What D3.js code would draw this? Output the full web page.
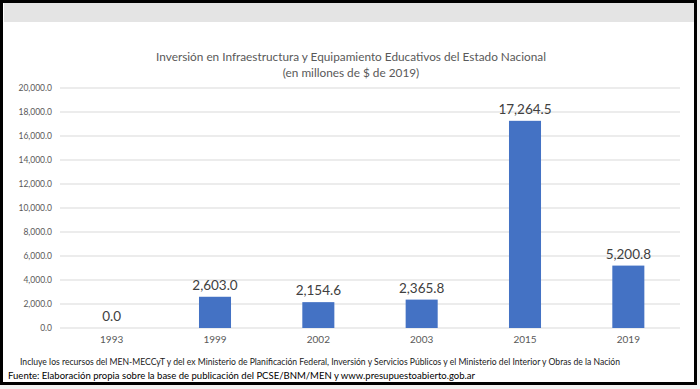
<!DOCTYPE html>
<html>
<head>
<meta charset="utf-8">
<script src="https://cdn.jsdelivr.net/npm/d3@7"></script>
<style>
  body { margin: 0; background: #fff; }
  svg { display: block; font-family: Lato, "Open Sans", sans-serif; }
</style>
</head>
<body>
<svg id="chart" width="700" height="389"></svg>
<script>
const years = ["1993", "1999", "2002", "2003", "2015", "2019"];
const values = [0.0, 2603.0, 2154.6, 2365.8, 17264.5, 5200.8];
const yTicks = [0, 2000, 4000, 6000, 8000, 10000, 12000, 14000, 16000, 18000, 20000];
const titleLines = ["Inversión en Infraestructura y Equipamiento Educativos del Estado Nacional", "(en millones de $ de 2019)"];
const noteLine = "Incluye los recursos del MEN-MECCyT y del ex Ministerio de Planificación Federal, Inversión y Servicios Públicos y el Ministerio del Interior y Obras de la Nación";
const sourceLine = "Fuente: Elaboración propia sobre la base de publicación del PCSE/BNM/MEN y www.presupuestoabierto.gob.ar";

const svg = d3.select("#chart");
const fmt = d3.format(",.1f");

// frame + grey header band
svg.append("rect").attr("x", 0).attr("y", 0).attr("width", 700).attr("height", 389).attr("fill", "#f2f2f2");
svg.append("rect").attr("x", 1.5).attr("y", 1.5).attr("width", 694).attr("height", 382)
    .attr("fill", "#fff").attr("stroke", "#000").attr("stroke-width", 3);
svg.append("rect").attr("x", 4).attr("y", 3).attr("width", 690).attr("height", 19).attr("fill", "#e4e4e4");

const x = d3.scaleBand()
    .domain(years)
    .range([60, 680])
    .paddingInner(0.69)
    .paddingOuter(0.345);

const y = d3.scaleLinear()
    .domain([0, 20000])
    .range([328, 88]);

// gridlines
svg.append("g")
    .selectAll("line")
    .data(yTicks)
    .join("line")
    .attr("x1", 60)
    .attr("x2", 680)
    .attr("y1", d => y(d))
    .attr("y2", d => y(d))
    .attr("stroke", "#d9d9d9")
    .attr("stroke-width", 1);

// y axis labels
const yAxis = svg.append("g")
    .attr("transform", "translate(52,0)")
    .call(d3.axisLeft(y).tickValues(yTicks).tickFormat(fmt).tickSize(0).tickPadding(0));
yAxis.select(".domain").remove();
yAxis.selectAll("text").attr("fill", "#595959").attr("font-size", 8.5).attr("font-family", "Lato, sans-serif");

// x axis labels
const xAxis = svg.append("g")
    .attr("transform", "translate(0,336)")
    .call(d3.axisBottom(x).tickSize(0).tickPadding(0));
xAxis.select(".domain").remove();
xAxis.selectAll("text").attr("fill", "#595959").attr("font-size", 10).attr("font-family", "Lato, sans-serif");

// bars
svg.append("g")
    .selectAll("rect")
    .data(values)
    .join("rect")
    .attr("x", (d, i) => x(years[i]))
    .attr("y", d => y(d))
    .attr("width", x.bandwidth())
    .attr("height", d => y(0) - y(d))
    .attr("fill", "#4472c4");

// value labels
svg.append("g")
    .selectAll("text")
    .data(values)
    .join("text")
    .attr("x", (d, i) => x(years[i]) + x.bandwidth() / 2)
    .attr("y", d => y(d) - 7)
    .attr("text-anchor", "middle")
    .attr("font-size", 13.5)
    .attr("fill", "#404040")
    .text(d => fmt(d));

// title
svg.append("g")
    .selectAll("text")
    .data(titleLines)
    .join("text")
    .attr("x", 351)
    .attr("y", (d, i) => 61 + i * 16)
    .attr("text-anchor", "middle")
    .attr("font-size", 11.8)
    .attr("fill", "#595959")
    .text(d => d);

// notes
svg.append("text")
    .attr("x", 20).attr("y", 365)
    .attr("font-size", 9)
    .attr("fill", "#1a1a1a")
    .attr("textLength", 600)
    .attr("lengthAdjust", "spacingAndGlyphs")
    .text(noteLine);

svg.append("text")
    .attr("x", 8).attr("y", 379)
    .attr("font-size", 9)
    .attr("fill", "#000")
    .attr("textLength", 467)
    .attr("lengthAdjust", "spacingAndGlyphs")
    .text(sourceLine);
</script>
</body>
</html>
